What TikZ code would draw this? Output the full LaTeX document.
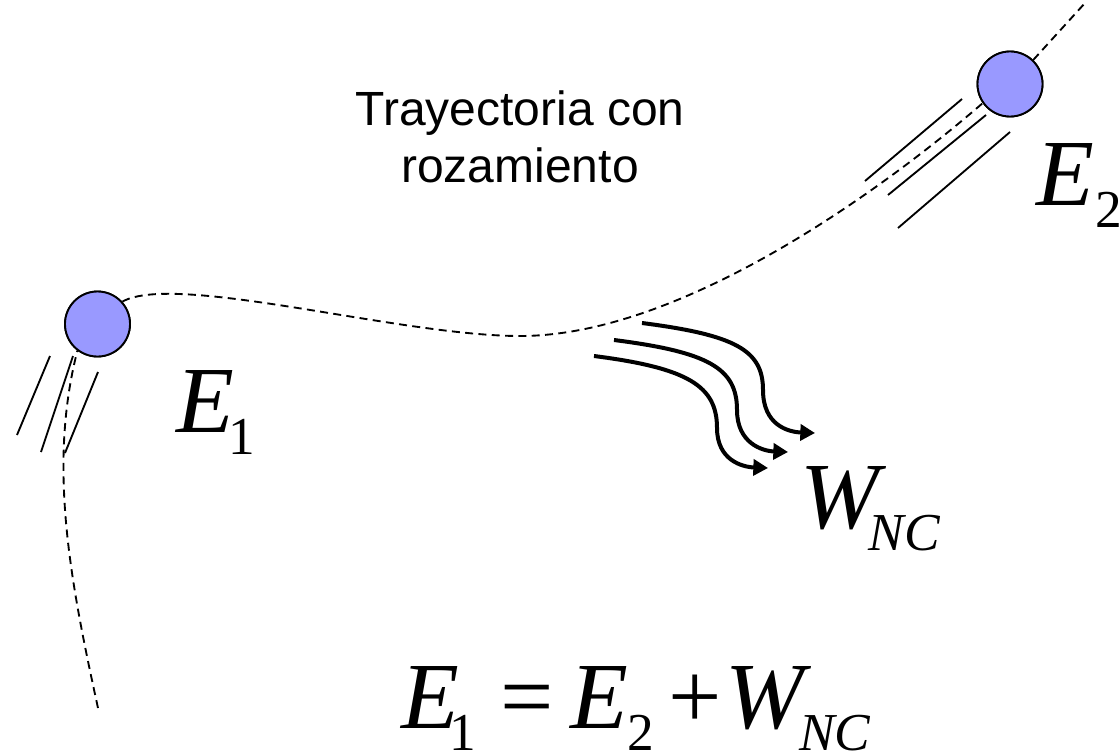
\documentclass[tikz,border=0pt]{standalone}
\usepackage{fontspec}
\setmainfont{Liberation Serif}
\newfontfamily\arialfont{Liberation Sans}
\usetikzlibrary{arrows.meta}
\definecolor{ballblue}{HTML}{9999FF}
\newcommand{\mysubA}[1]{\raisebox{-16.5pt}{\fontsize{40}{40}\selectfont #1}}
\newcommand{\mysubB}[1]{\raisebox{-17pt}{\fontsize{40}{40}\selectfont #1}}
\begin{document}
\begin{tikzpicture}[x=0.75pt,y=-0.75pt,
  ball/.style={circle, draw=black, line width=1.4pt, fill=ballblue, minimum size=48.75pt, inner sep=0pt},
  traj/.style={dash pattern=on 6pt off 4pt, line width=1.4pt},
  streak/.style={line width=1.4pt},
  heat/.style={line width=3pt, -{Triangle[length=11pt,width=12pt]}},
  bigmath/.style={font=\fontsize{71}{71}\selectfont, inner sep=0pt, anchor=base west},
  caption/.style={font=\arialfont\fontsize{36}{42.75}\selectfont, align=center, inner sep=0pt}]
\useasboundingbox (0,0) rectangle (1119,753);

% balls (placed first as nodes so paths can refer to them)
\node[ball] (b1) at (97.5,324) {};
\node[ball] (b2) at (1010,84) {};
\coordinate (tstart) at (98,708);
\coordinate (tlow) at (520,336);
\coordinate (tend) at (1085,3);

% trajectory
\draw[traj] (tstart) .. controls (70,580) and (48,465) .. (b1.233);
\draw[traj] (b1.42) .. controls (175,272) and (400,336) .. (tlow)
            .. controls (680,336) and (880,192) .. (b2.215);
\draw[traj] (b2.46) -- (tend);

% redraw balls on top
\node[ball] at (b1) {};
\node[ball] at (b2) {};

% motion streaks
\draw[streak] (50,356) -- (17,435);
\draw[streak] (73,356) -- (41,452);
\draw[streak] (98,372) -- (65,453);
\draw[streak] (865,181) -- (962,99);
\draw[streak] (888,195) -- (986,115);
\draw[streak] (898,228) -- (1010,132);

% heat arrows
\draw[heat] (642,323) .. controls (735,335) and (763,350) .. (763,390)
            .. controls (763,425) and (788,432) .. (815,433);
\draw[heat] (614,340) .. controls (708,352) and (737,368) .. (737,410)
            .. controls (737,443) and (762,451) .. (788,452);
\draw[heat] (594,356) .. controls (688,368) and (717,386) .. (717,428)
            .. controls (717,460) and (742,467) .. (768,468);

% caption
\node[caption, anchor=base] (cap) at (520,182) {Trayectoria con\\rozamiento};

% labels
\node[bigmath] (e1) at (176,432) {\textit{E}\kern-4.5pt\mysubA{1}};
\node[bigmath] (e2) at (1036,205) {\textit{E}\kern1pt\mysubA{2}};
\node[bigmath] (w) at (800,528) {\textit{W}\kern-13pt\mysubA{\textit{NC}}};

% formula
\node[bigmath] (eq) at (401,728) {\textit{E}\kern-7pt\mysubB{1}\kern18pt=\kern12.5pt\textit{E}\kern-0.5pt\mysubB{2}\kern11pt+\kern2.5pt\textit{W}\kern-9.5pt\mysubB{\textit{NC}}};
\end{tikzpicture}
\end{document}
